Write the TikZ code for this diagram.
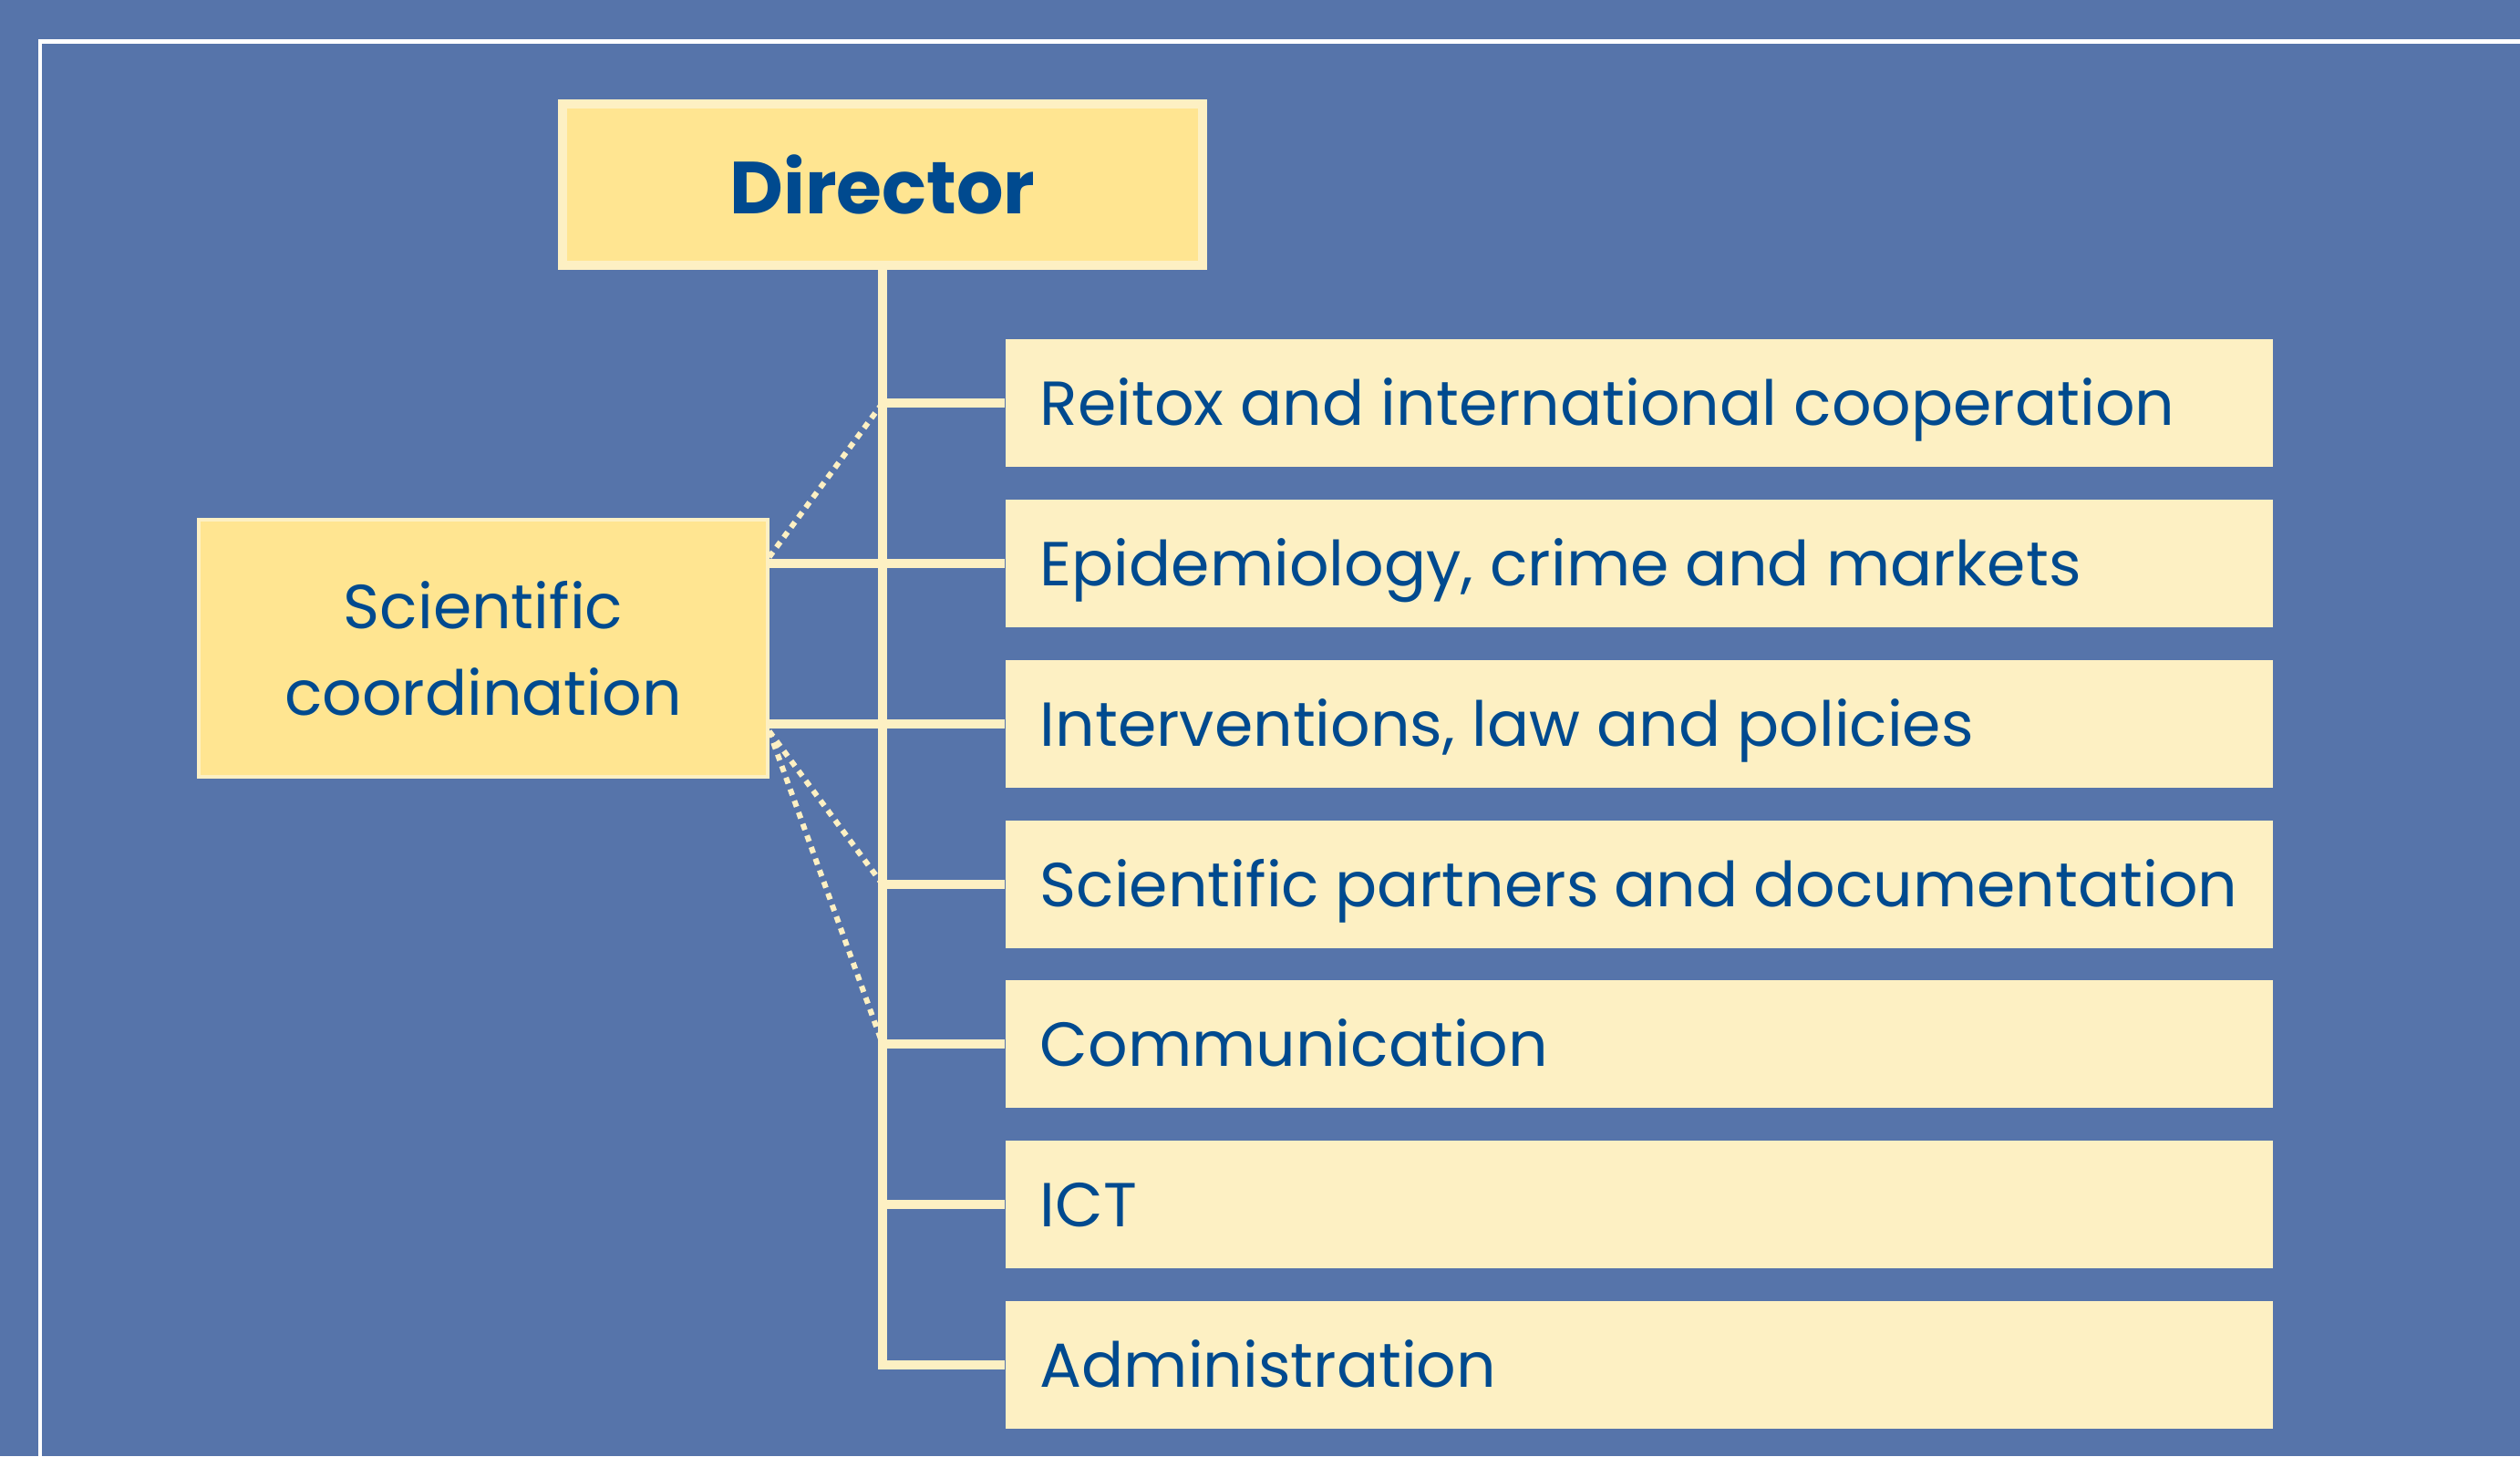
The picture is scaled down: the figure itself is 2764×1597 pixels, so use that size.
\documentclass[tikz,border=0pt]{standalone}
\usepackage{fontspec}
\setmainfont{Poppins}
\usepackage{xcolor}
\usetikzlibrary{positioning}
\definecolor{bgblue}{RGB}{86,116,170}
\definecolor{navy}{RGB}{0,74,143}
\definecolor{gold}{RGB}{255,229,145}
\definecolor{cream}{RGB}{253,240,195}
\tikzset{
	unit/.style={fill=cream, anchor=west, minimum height=1.39cm, inner xsep=0.38cm, text=navy, font=\fontsize{19.4}{27}\selectfont, text height=0.48cm, text depth=0cm, execute at begin node={\hbox to 13.13cm\bgroup}, execute at end node={\hfil\egroup}},
	headbox/.style={fill=gold, draw=cream, line width=0.1cm, minimum width=7.02cm, minimum height=1.77cm, text=navy, font=\bfseries\fontsize{23}{28}\selectfont},
	coordbox/.style={fill=gold, draw=cream, line width=0.04cm, minimum width=6.23cm, minimum height=2.82cm, text=navy, align=center, font=\fontsize{19.4}{27}\selectfont},
	branch/.style={cream, line width=0.1cm},
	dotline/.style={cream, line width=0.06cm, dash pattern=on 0.07cm off 0.065cm},
}

\begin{document}
\begin{tikzpicture}[x=0.01cm, y=-0.01cm]
		\useasboundingbox (0,0) rectangle (2764,1597);
		\clip (0,0) rectangle (2764,1597);
		\fill[bgblue] (0,0) rectangle (2764,1597);
		\draw[white, line width=0.045cm] (44,1620) -- (44,45.5) -- (2790,45.5);
		\node[headbox] (dir) at (968,202.5) {Director};
		\node[coordbox] (sc) at (530,711) {Scientific\\coordination};
		\node[unit] (reitox) at (1102,442) {Reitox and international cooperation};
		\node[unit] (epi) at (1102,618) {Epidemiology, crime and markets};
		\node[unit] (interv) at (1102,794) {Interventions, law and policies};
		\node[unit] (partners) at (1102,970) {Scientific partners and documentation};
		\node[unit] (comm) at (1102,1145) {Communication};
		\node[unit] (ict) at (1102,1321) {ICT};
		\node[unit] (admin) at (1102,1497) {Administration};
		\draw[dotline] ([yshift=0.07cm]sc.east |- epi.west) -- (dir.south |- reitox.west);
		\draw[dotline] ([yshift=-0.08cm]sc.east |- interv.west) -- (dir.south |- partners.west);
		\draw[dotline] ([yshift=-0.08cm]sc.east |- interv.west) -- (dir.south |- comm.west);
		\draw[branch] (dir.south) -- (dir.south |- admin.west) -- (admin.west);
		\draw[branch] (dir.south |- reitox.west) -- (reitox.west);
		\draw[branch] (sc.east |- epi.west) -- (epi.west);
		\draw[branch] (sc.east |- interv.west) -- (interv.west);
		\draw[branch] (dir.south |- partners.west) -- (partners.west);
		\draw[branch] (dir.south |- comm.west) -- (comm.west);
		\draw[branch] (dir.south |- ict.west) -- (ict.west);
	\end{tikzpicture}
\end{document}
